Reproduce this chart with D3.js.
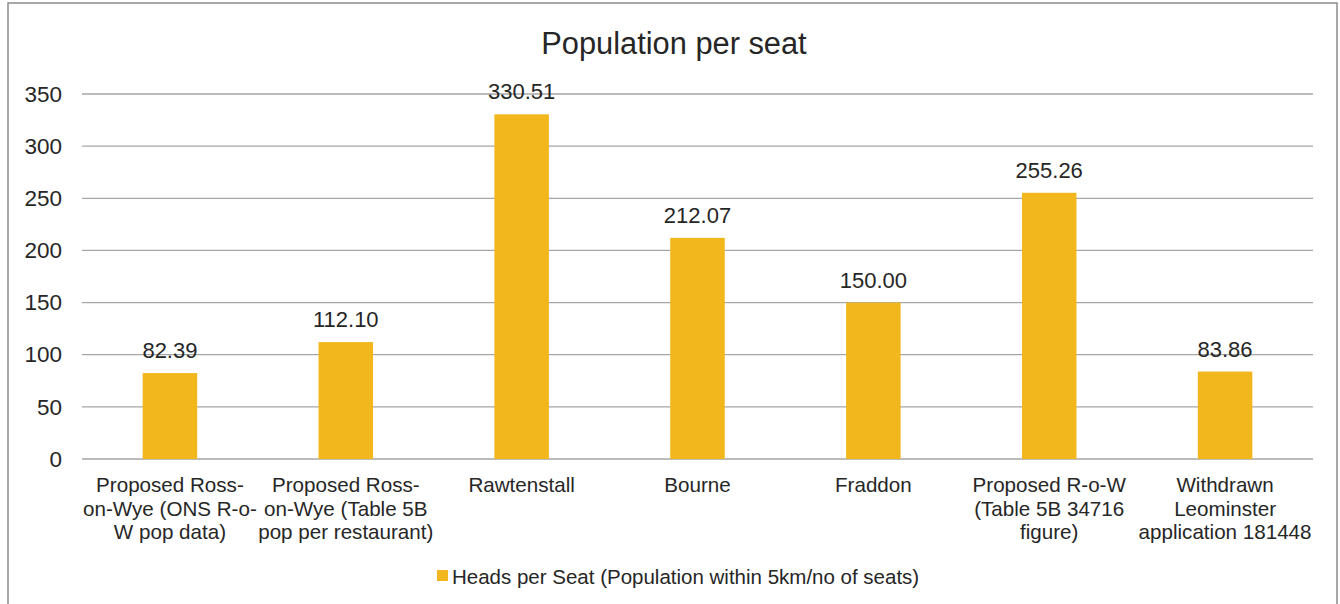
<!DOCTYPE html>
<html lang="en">
<head>
    <meta charset="UTF-8">
    <title>Population per seat</title>
    <script src="https://d3js.org/d3.v7.min.js"></script>
    <style>
        body {
            margin: 0;
            overflow: hidden;
            background: #fff;
        }
        text {
            font-family: "Liberation Sans", Arial, sans-serif;
            fill: #262626;
        }
        .grid line {
            stroke: #a6a6a6;
            stroke-width: 1.3;
        }
    </style>
</head>
<body>
    <script>
        // Data
        const categories = [
            "Proposed Ross-\non-Wye (ONS R-o-\nW pop data)",
            "Proposed Ross-\non-Wye (Table 5B\npop per restaurant)",
            "Rawtenstall",
            "Bourne",
            "Fraddon",
            "Proposed R-o-W\n(Table 5B 34716\nfigure)",
            "Withdrawn\nLeominster\napplication 181448"
        ];
        const values = [82.39, 112.10, 330.51, 212.07, 150.00, 255.26, 83.86];
        const yTicks = [0, 50, 100, 150, 200, 250, 300, 350];
        const seriesName = "Heads per Seat (Population within 5km/no of seats)";
        const chartTitle = "Population per seat";

        const width = 1340;
        const height = 604;
        const barColor = "#f2b71c";

        const svg = d3.select("body").append("svg")
            .attr("width", width)
            .attr("height", height);

        // chart outline (bottom edge is cut off in the reference)
        svg.append("rect")
            .attr("x", 8)
            .attr("y", 3)
            .attr("width", 1329)
            .attr("height", 640)
            .attr("fill", "none")
            .attr("stroke", "#8c8c8c")
            .attr("stroke-width", 1.5);

        const plot = { left: 82, right: 1313, top: 94, bottom: 459 };

        const x = d3.scaleBand()
            .domain(categories)
            .range([plot.left, plot.right])
            .paddingInner(0.69)
            .paddingOuter(0.345);

        const y = d3.scaleLinear()
            .domain([0, 350])
            .range([plot.bottom, plot.top]);

        // gridlines
        svg.append("g")
            .attr("class", "grid")
            .selectAll("line")
            .data(yTicks)
            .enter().append("line")
            .attr("x1", plot.left)
            .attr("x2", plot.right)
            .attr("y1", d => y(d))
            .attr("y2", d => y(d));

        // y axis labels
        const yAxis = svg.append("g")
            .attr("transform", `translate(${plot.left - 20},0)`)
            .call(d3.axisLeft(y).tickValues(yTicks).tickSize(0).tickPadding(0));
        yAxis.select(".domain").remove();
        yAxis.selectAll("text")
            .attr("font-size", 22.5)
            .attr("font-family", "Liberation Sans, Arial, sans-serif")
            .attr("fill", "#262626");

        // bars
        svg.append("g")
            .selectAll("rect")
            .data(values)
            .enter().append("rect")
            .attr("x", (d, i) => x(categories[i]))
            .attr("y", d => y(d))
            .attr("width", x.bandwidth())
            .attr("height", d => y(0) - y(d))
            .attr("fill", barColor);

        // value labels
        svg.append("g")
            .selectAll("text")
            .data(values)
            .enter().append("text")
            .attr("x", (d, i) => x(categories[i]) + x.bandwidth() / 2)
            .attr("y", d => y(d) - 15)
            .attr("text-anchor", "middle")
            .attr("font-size", 22)
            .text(d => d.toFixed(2));

        // category labels
        const catLabels = svg.append("g")
            .selectAll("text")
            .data(categories)
            .enter().append("text")
            .attr("x", d => x(d) + x.bandwidth() / 2)
            .attr("y", 492)
            .attr("text-anchor", "middle")
            .attr("font-size", 20.6);
        catLabels.each(function(d) {
            const el = d3.select(this);
            const cx = x(d) + x.bandwidth() / 2;
            d.split("\n").forEach((line, k) => {
                el.append("tspan")
                    .attr("x", cx)
                    .attr("dy", k === 0 ? 0 : 23.5)
                    .text(line);
            });
        });

        // title
        svg.append("text")
            .attr("x", 674)
            .attr("y", 54)
            .attr("text-anchor", "middle")
            .attr("font-size", 30.8)
            .text(chartTitle);

        // legend
        const legend = svg.append("g");
        legend.append("rect")
            .attr("x", 437)
            .attr("y", 570)
            .attr("width", 11)
            .attr("height", 11)
            .attr("fill", barColor);
        legend.append("text")
            .attr("x", 452)
            .attr("y", 584)
            .attr("font-size", 20.5)
            .text(seriesName);
    </script>
</body>
</html>
